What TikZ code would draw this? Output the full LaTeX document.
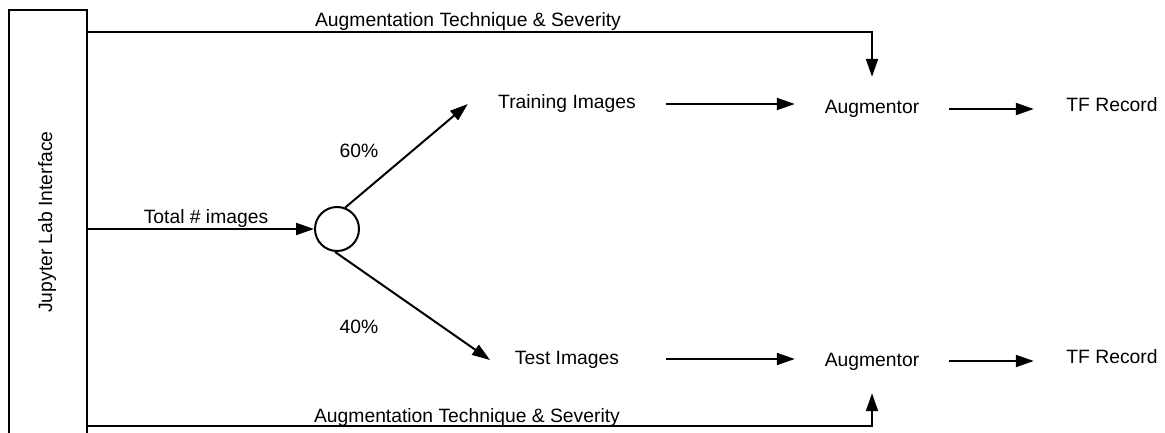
\documentclass[tikz,border=0pt]{standalone}
\usepackage{fontspec}
\setmainfont{Liberation Sans}
\usetikzlibrary{arrows.meta}
\begin{document}
\begin{tikzpicture}[x=1pt,y=-1pt,
  every node/.style={font=\fontsize{19.3}{23}\selectfont, inner sep=0pt,
    text height=14pt, text depth=4pt},
  conn/.style={line width=2pt},
  arr/.style={conn, -{Triangle[length=18pt,width=12pt]}},
  stage/.style={minimum height=64pt}]
\useasboundingbox (0,0) rectangle (1165,433);
\clip (0,0) rectangle (1165,433);

% interface column on the left
\node[draw, line width=2pt, minimum width=78pt, minimum height=440pt] (jl) at (48,230) {};
\node[rotate=90] (jllabel) at (47,222) {Jupyter Lab Interface};

% split point
\node[draw, circle, line width=2pt, minimum size=44pt, text height=, text depth=] (split) at (337,229) {};

% image sets
\node[minimum width=198pt] (train) at (567,104) {Training Images};
\node[minimum width=198pt] (test) at (567,359) {Test Images};

% augmentors
\node[stage, minimum width=154pt] (augA) at (872,109) {Augmentor};
\node[stage, minimum width=154pt] (augB) at (872,361) {Augmentor};

% outputs
\node[minimum width=156pt] (tfA) at (1112,107) {TF Record};
\node[minimum width=156pt] (tfB) at (1112,358) {TF Record};

% routing helpers
\coordinate (ytop) at (0,32);
\coordinate (ybot) at (0,426);
\coordinate (ymid) at (0,229);
\coordinate (testin) at (490,360);

% parameter feeds
\draw[arr] (jl.east |- ytop) -| (augA.north);
\draw[arr] (jl.east |- ybot) -| (augB.south);
\node (toplab) at (468,22) {Augmentation Technique \& Severity};
\node (botlab) at (467,417) {Augmentation Technique \& Severity};

% total images into the split
\draw[arr] (jl.east |- ymid) -- (split.west);
\node (totlab) at (206,218) {Total \# images};

% split branches
\draw[arr] (split.69) -- (train.west);
\draw[arr] (split.-95) -- (testin);
\node (p60) at (359,153) {60\%};
\node (p40) at (359,328) {40\%};

% processing chain
\draw[arr] (train.east) -- (train.east -| augA.west);
\draw[arr] (augA.east) -- (augA.east -| tfA.west);
\draw[arr] (test.east) -- (test.east -| augB.west);
\draw[arr] (augB.east) -- (augB.east -| tfB.west);
\end{tikzpicture}
\end{document}
